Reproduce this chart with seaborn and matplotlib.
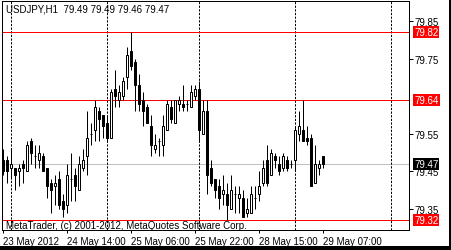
import matplotlib
matplotlib.use("Agg")
import matplotlib.pyplot as plt
import matplotlib.transforms as mtransforms
from matplotlib.patches import Rectangle
import numpy as np
import pandas as pd
import seaborn as sns

# ---- data (USDJPY H1) ----
opens = [79.48, 79.48, 79.46, 79.46, 79.45, 79.47, 79.45, 79.53, 79.49, 79.48,
         79.49, 79.46, 79.42, 79.41, 79.43, 79.37, 79.36, 79.43, 79.44, 79.40,
         79.46, 79.49, 79.55, 79.56, 79.61, 79.60, 79.58, 79.54, 79.67, 79.64,
         79.65, 79.70, 79.77, 79.74, 79.68, 79.64, 79.62, 79.57, 79.51, 79.53,
         79.52, 79.56, 79.62, 79.58, 79.63, 79.63, 79.63, 79.62, 79.65, 79.67,
         79.55, 79.61, 79.46, 79.43, 79.41, 79.39, 79.39, 79.35, 79.39, 79.38,
         79.38, 79.34, 79.34, 79.38, 79.39, 79.42, 79.48, 79.44, 79.49, 79.47,
         79.46, 79.48, 79.47, 79.48, 79.55, 79.56, 79.54, 79.54, 79.42, 79.46, 79.49]
highs = [79.51, 79.49, 79.51, 79.46, 79.47, 79.48, 79.53, 79.54, 79.52, 79.52,
         79.50, 79.46, 79.43, 79.44, 79.45, 79.39, 79.47, 79.50, 79.46, 79.49,
         79.51, 79.61, 79.58, 79.64, 79.62, 79.60, 79.60, 79.67, 79.72, 79.68,
         79.70, 79.78, 79.82, 79.75, 79.71, 79.66, 79.63, 79.60, 79.55, 79.54,
         79.60, 79.64, 79.64, 79.64, 79.65, 79.68, 79.64, 79.68, 79.68, 79.69,
         79.64, 79.64, 79.48, 79.43, 79.43, 79.44, 79.42, 79.44, 79.41, 79.41,
         79.40, 79.38, 79.41, 79.41, 79.45, 79.48, 79.52, 79.51, 79.50, 79.49,
         79.50, 79.49, 79.48, 79.57, 79.61, 79.64, 79.57, 79.55, 79.52, 79.48, 79.49]
lows = [79.44, 79.42, 79.43, 79.40, 79.41, 79.42, 79.45, 79.47, 79.46, 79.46,
        79.45, 79.38, 79.34, 79.36, 79.35, 79.33, 79.34, 79.37, 79.37, 79.40,
        79.45, 79.44, 79.52, 79.53, 79.53, 79.54, 79.53, 79.54, 79.62, 79.62,
        79.64, 79.67, 79.72, 79.61, 79.61, 79.57, 79.58, 79.49, 79.50, 79.49,
        79.49, 79.56, 79.58, 79.58, 79.61, 79.61, 79.61, 79.62, 79.64, 79.53,
        79.55, 79.39, 79.41, 79.38, 79.35, 79.36, 79.32, 79.35, 79.34, 79.34,
        79.33, 79.33, 79.34, 79.35, 79.37, 79.41, 79.41, 79.44, 79.46, 79.44,
        79.45, 79.45, 79.46, 79.45, 79.53, 79.53, 79.52, 79.41, 79.42, 79.44, 79.46]
closes = [79.45, 79.45, 79.47, 79.44, 79.46, 79.46, 79.52, 79.50, 79.49, 79.50,
          79.45, 79.41, 79.40, 79.42, 79.36, 79.35, 79.44, 79.43, 79.41, 79.47,
          79.48, 79.54, 79.55, 79.62, 79.59, 79.57, 79.54, 79.66, 79.65, 79.66,
          79.69, 79.76, 79.73, 79.68, 79.63, 79.61, 79.58, 79.52, 79.52, 79.53,
          79.57, 79.63, 79.59, 79.64, 79.64, 79.62, 79.63, 79.66, 79.67, 79.56,
          79.61, 79.44, 79.42, 79.40, 79.38, 79.40, 79.36, 79.40, 79.39, 79.39,
          79.33, 79.35, 79.39, 79.38, 79.41, 79.46, 79.42, 79.50, 79.48, 79.45,
          79.49, 79.46, 79.47, 79.56, 79.57, 79.53, 79.53, 79.41, 79.47, 79.47, 79.47]

time_label_bars = [0, 16, 32, 48, 64, 80]
time_labels = ["23 May 2012", "24 May 14:00", "25 May 06:00",
               "25 May 22:00", "28 May 15:00", "29 May 07:00"]
day_separator_bars = [2, 26, 49, 73, 97]
price_ticks = [79.35, 79.45, 79.55, 79.75, 79.85]
red_levels = [79.82, 79.64, 79.32]
bid_price = 79.47
symbol_title = "USDJPY,H1  79.49 79.49 79.46 79.47"
copyright_text = "MetaTrader, (c) 2001-2012, MetaQuotes Software Corp."

df = pd.DataFrame({"open": opens, "high": highs, "low": lows, "close": closes})
df["bar"] = np.arange(len(df))
df["bottom"] = df[["open", "close"]].min(axis=1)
df["height"] = (df["close"] - df["open"]).abs()
df["face"] = np.where(df["close"] > df["open"], "white", "black")

# ---- style ----
sns.set_theme(style="white")
plt.rcParams["font.family"] = ["Liberation Sans", "DejaVu Sans"]
PX = 0.72  # one pixel in points at dpi 100

fig = plt.figure(figsize=(4.51, 2.51), dpi=100)
fig.patch.set_facecolor("white")
W, H = 451, 251
ax = fig.add_axes([2 / W, (H - 231) / H, 407 / W, 229 / H])
ax.set_facecolor("white")

ax.set_xlim(-0.25, 101.5)
ax.set_ylim(79.2941, 79.9032)

# horizontal levels
ax.axhline(bid_price, color="#c0c0c0", lw=PX, zorder=1)
for lvl in red_levels:
    ax.axhline(lvl, color="#ff0000", lw=PX, zorder=1.5)

# period separators
for b in day_separator_bars:
    ax.axvline(b, color="black", lw=PX, linestyle=(0, (2.2, 1.45)), zorder=1.2)

# wicks
ax.vlines(df["bar"], df["low"], df["high"], color="black", lw=PX, zorder=2)
# bodies
ax.bar(df["bar"], df["height"], bottom=df["bottom"], width=0.5,
       color=df["face"], edgecolor="black", linewidth=PX, zorder=3)

# axes frame
for s in ax.spines.values():
    s.set_color("black")
    s.set_linewidth(PX)
    s.set_visible(True)

# y axis on the right
ax.yaxis.tick_right()
ax.set_yticks(price_ticks)
ax.set_yticklabels([f"{p:.2f}" for p in price_ticks])
ax.tick_params(axis="y", direction="out", length=2.9, width=PX, pad=1.0,
               labelsize=7, colors="black", right=True, left=False)

ax.set_xticks(time_label_bars)
ax.set_xticklabels(time_labels, ha="left")
ax.tick_params(axis="x", direction="out", length=2.2, width=PX, pad=2.0,
               labelsize=7, colors="black", bottom=True)
ax.set_xlabel("")
ax.set_ylabel("")

# price boxes on the right
trans = mtransforms.blended_transform_factory(ax.transAxes, ax.transData)
for lvl in red_levels:
    ax.text(1 + 5 / 407, lvl, f"{lvl:.2f}", transform=trans, ha="left", va="center",
            color="white", fontsize=7, clip_on=False, zorder=6,
            bbox=dict(boxstyle="square,pad=0.12", fc="#ff0000", ec="none"))
ax.text(1 + 5 / 407, bid_price, f"{bid_price:.2f}", transform=trans, ha="left",
        va="center", color="white", fontsize=7, clip_on=False, zorder=6,
        bbox=dict(boxstyle="square,pad=0.12", fc="black", ec="none"))

# texts inside chart
ax.text(4 / 407, (231 - 9) / 229, symbol_title, transform=ax.transAxes,
        ha="left", va="center", fontsize=7, color="black", zorder=7)
ax.text(4 / 407, (231 - 226.5) / 229, copyright_text, transform=ax.transAxes,
        ha="left", va="center", fontsize=7, color="black", zorder=7)

# window border strips (right and bottom)
fig.patches.append(Rectangle((0, 0), 1, 4 / H, transform=fig.transFigure,
                             facecolor="black", edgecolor="none", zorder=10))
fig.patches.append(Rectangle((449 / W, 0), 2 / W, 1, transform=fig.transFigure,
                             facecolor="black", edgecolor="none", zorder=10))

fig.savefig("out.png", dpi=100)
